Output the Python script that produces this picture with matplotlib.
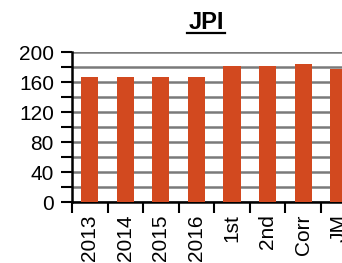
import matplotlib
matplotlib.use("Agg")
import matplotlib.pyplot as plt
from matplotlib.lines import Line2D

plt.rcParams["font.family"] = ["Liberation Sans", "DejaVu Sans"]

categories = ["2013", "2014", "2015", "2016", "1st", "2nd", "Corr", "JM"]
values = [167, 167, 167, 167, 182, 182, 184, 177]
bar_color = "#D2491F"

fig = plt.figure(figsize=(3.42, 2.63), dpi=100)
# axes runs past the right edge, like the cropped original
ax = fig.add_axes([72 / 342, 61 / 263, 320 / 342, 150 / 263])

x = list(range(len(categories)))
ax.bar([i + 0.5 for i in x], values, width=0.48, color=bar_color, zorder=3)

ax.set_ylim(0, 200)
ax.set_xlim(0, 9)
ax.set_yticks(range(0, 201, 40))
ax.set_yticks(range(20, 200, 40), minor=True)
ax.yaxis.grid(True, which="both", color="#7a7a7a", linewidth=1.8, zorder=0)

# category boundaries get the tick marks, labels sit at the bar centres
ax.set_xticks(range(0, 9))
ax.set_xticklabels([])
ax.set_xticks([i + 0.5 for i in x], minor=True)
ax.set_xticklabels(categories, minor=True, rotation=90, fontsize=15, va="top")
ax.tick_params(axis="x", which="major", length=8, width=1.5, direction="out")
ax.tick_params(axis="x", which="minor", length=0, pad=9)
ax.tick_params(axis="y", which="both", length=8, width=1.5, labelsize=15, pad=5)

for s in ["top", "right"]:
    ax.spines[s].set_visible(False)
ax.spines["left"].set_linewidth(1.8)
ax.spines["bottom"].set_linewidth(1.8)

fig.text(206 / 342, 1 - 29 / 263, "JPI", ha="center", va="baseline",
         fontsize=17, fontweight="bold")
fig.add_artist(Line2D([187 / 342, 225 / 342], [1 - 32.5 / 263, 1 - 32.5 / 263],
                      color="black", linewidth=1.6))

fig.savefig("out.png", dpi=100)
